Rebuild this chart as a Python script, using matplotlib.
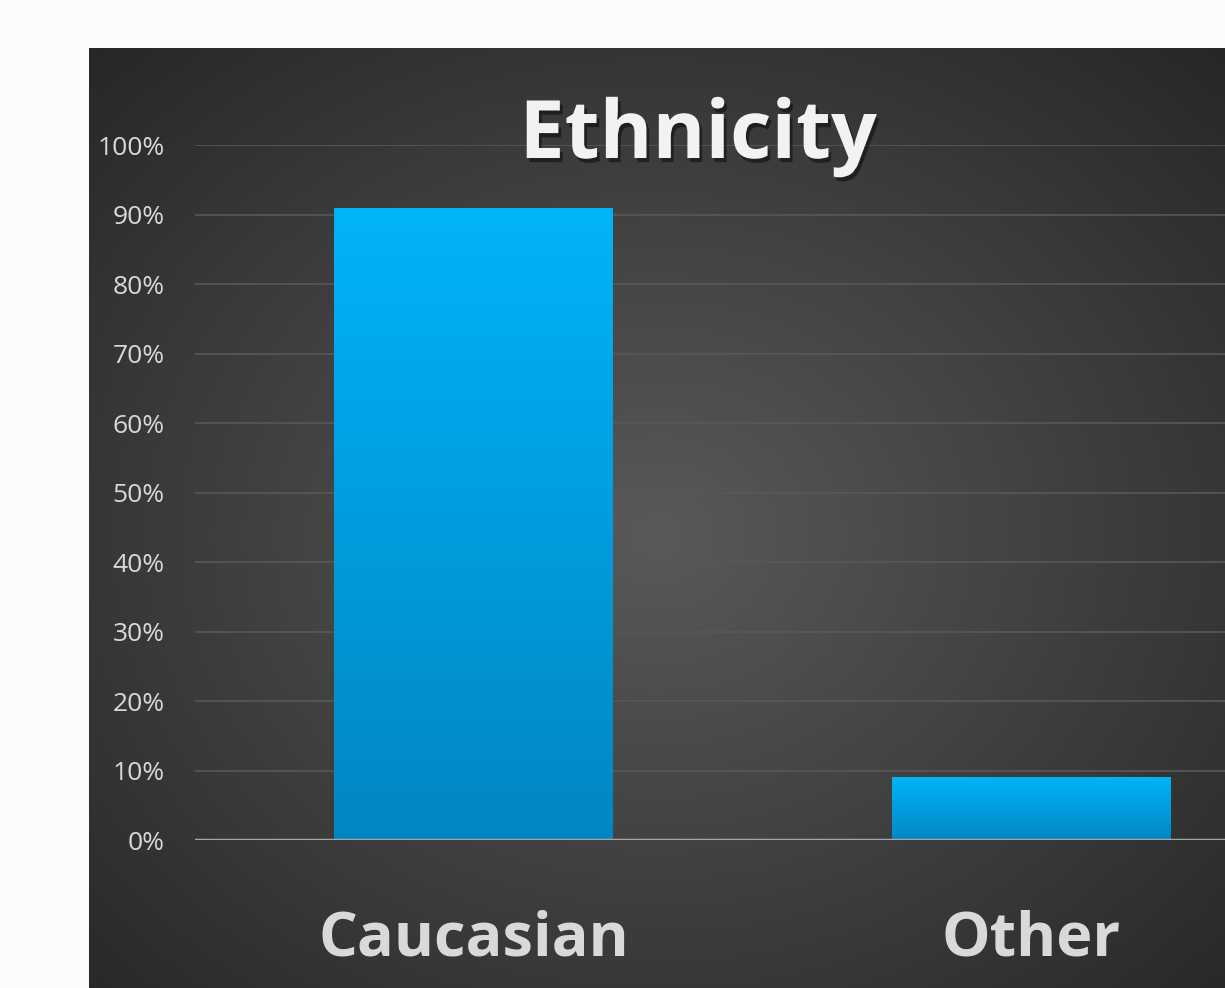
import numpy as np
import matplotlib.pyplot as plt
import matplotlib.patheffects as pe
from matplotlib.ticker import PercentFormatter

categories = ["Caucasian", "Other"]
shares = [0.91, 0.09]
yticks = [0, 0.1, 0.2, 0.3, 0.4, 0.5, 0.6, 0.7, 0.8, 0.9, 1.0]

W, H = 1225, 988
fig = plt.figure(figsize=(W / 100, H / 100), dpi=100, facecolor="#fbfbfb")

# dark panel with a soft radial glow
bg = fig.add_axes([89 / W, 0, 1 - 89 / W, (H - 48) / H])
bg.set_axis_off()
yy, xx = np.mgrid[0:1:300j, 0:1:300j]
r = np.sqrt(((xx - 0.5) / 0.75) ** 2 + ((yy - 0.52) / 0.75) ** 2)
glow = np.clip(1 - r, 0, 1)
bg.imshow(glow, cmap=plt.matplotlib.colors.LinearSegmentedColormap.from_list(
    "panel", ["#272727", "#595959"]), extent=[0, 1, 0, 1], aspect="auto",
    interpolation="bicubic")
bg.set_xlim(0, 1)
bg.set_ylim(0, 1)

ax = fig.add_axes([195 / W, (H - 840) / H, 2 * 557.5 / W, (840 - 145) / H])
ax.patch.set_alpha(0)
x = np.arange(len(categories))
bars = ax.bar(x, shares, width=0.5, color="none", zorder=3)

grad = np.linspace(0, 1, 256).reshape(-1, 1)
bar_cmap = plt.matplotlib.colors.LinearSegmentedColormap.from_list(
    "bar", ["#0286c4", "#00b4f8"])
for b in bars:
    im = ax.imshow(grad, cmap=bar_cmap, origin="lower", aspect="auto",
                   extent=[b.get_x(), b.get_x() + b.get_width(), 0, b.get_height()],
                   zorder=3)
    im.set_clip_path(b)

ax.set_xlim(-0.5, 1.5)
ax.set_ylim(0, 1)
ax.set_yticks(yticks)
ax.yaxis.set_major_formatter(PercentFormatter(1, decimals=0))
ax.grid(axis="y", color="#585858", linewidth=1.2, zorder=1)
ax.axhline(0, color="#a6a6a6", linewidth=2.5, zorder=4)
ax.tick_params(axis="y", length=0, pad=22, labelsize=19, labelcolor="#d9d9d9")
ax.tick_params(axis="x", length=0, pad=50)
ax.set_xticks(x)
ax.set_xticklabels(categories, fontsize=44, fontweight="bold", color="#d9d9d9")
for lbl in ax.get_yticklabels() + ax.get_xticklabels():
    lbl.set_family("Open Sans")
for s in ax.spines.values():
    s.set_visible(False)

fig.text(698 / W, 1 - 137 / H, "Ethnicity", ha="center", va="center",
         fontsize=58, fontweight="bold", color="#f2f2f2", family="Open Sans",
         path_effects=[pe.withSimplePatchShadow(offset=(2, -3), shadow_rgbFace="black", alpha=0.45)])

fig.savefig("out.png", dpi=100, facecolor=fig.get_facecolor())
